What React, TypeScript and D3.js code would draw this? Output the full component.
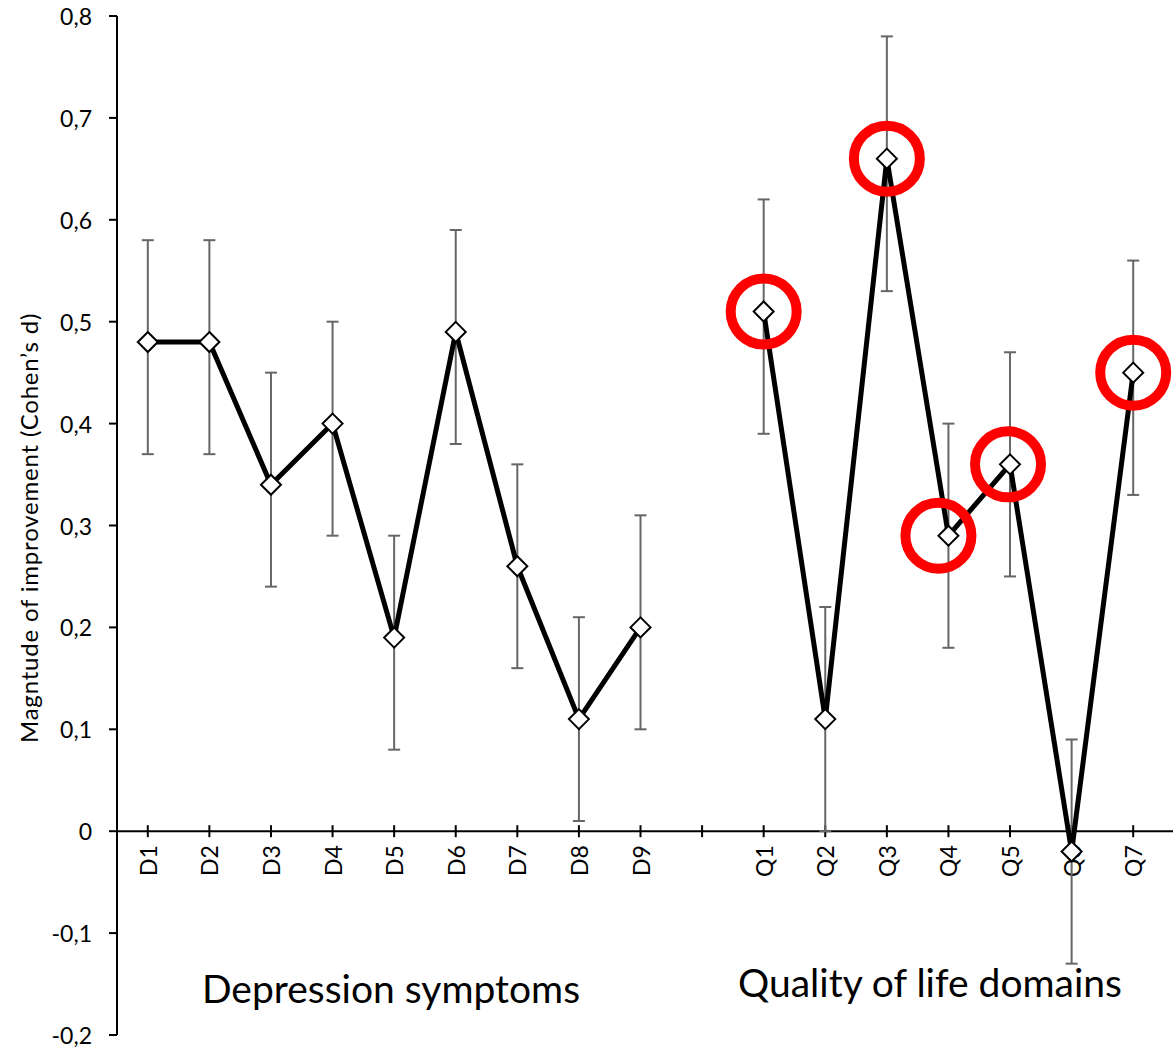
import React from "react";
import * as d3 from "d3";

const categories = ["D1","D2","D3","D4","D5","D6","D7","D8","D9","","Q1","Q2","Q3","Q4","Q5","Q6","Q7"];
const depLabels = ["D1","D2","D3","D4","D5","D6","D7","D8","D9"];
const depValues = [0.48,0.48,0.34,0.40,0.19,0.49,0.26,0.11,0.20];
const depLow = [0.37,0.37,0.24,0.29,0.08,0.38,0.16,0.01,0.10];
const depHigh = [0.58,0.58,0.45,0.50,0.29,0.59,0.36,0.21,0.31];
const qolLabels = ["Q1","Q2","Q3","Q4","Q5","Q6","Q7"];
const qolValues = [0.51,0.11,0.66,0.29,0.36,-0.02,0.45];
const qolLow = [0.39,0.00,0.53,0.18,0.25,-0.13,0.33];
const qolHigh = [0.62,0.22,0.78,0.40,0.47,0.09,0.56];
const highlighted = ["Q1","Q3","Q4","Q5","Q7"];
const yTicks = [-0.2,-0.1,0,0.1,0.2,0.3,0.4,0.5,0.6,0.7,0.8];

const FONT = "Lato, 'Open Sans', sans-serif";

export default function App() {
  const W = 1173, H = 1047;
  const x = d3.scaleBand().domain(categories.map((c, i) => c || "gap" + i)).range([117, 1164]);
  const cx = (c: string) => (x(c) as number) + x.bandwidth() / 2;
  const y = d3.scaleLinear().domain([-0.2, 0.8]).range([1035, 16]);
  const line = d3.line<[string, number]>().x(d => cx(d[0])).y(d => y(d[1]));
  const dep = depLabels.map((c, i) => ({ c, v: depValues[i], lo: depLow[i], hi: depHigh[i] }));
  const qol = qolLabels.map((c, i) => ({ c, v: qolValues[i], lo: qolLow[i], hi: qolHigh[i] }));
  const all = [...dep, ...qol];
  const fmt = (v: number) => (Math.round(v * 10) / 10).toString().replace(".", ",");
  const diamond = (px: number, py: number, r: number) => `M${px},${py - r}L${px + r},${py}L${px},${py + r}L${px - r},${py}Z`;
  const y0 = y(0);
  const circleOffset: Record<string, number> = { Q4: -10, Q5: -2 };
  return (
    <svg width={W} height={H} style={{ position: "absolute", left: 0, top: 0, background: "#fff" }}>
      <rect width={W} height={H} fill="#fff" />
      {/* y axis */}
      <line x1={117} x2={117} y1={y(0.8)} y2={y(-0.2)} stroke="#000" strokeWidth={2} />
      {yTicks.map(t => (
        <g key={t}>
          <line x1={109} x2={117} y1={y(t)} y2={y(t)} stroke="#000" strokeWidth={2} />
          <text x={92} y={y(t)} textAnchor="end" dominantBaseline="central" fontFamily={FONT} fontSize={23}>{fmt(t)}</text>
        </g>
      ))}
      <text transform={`translate(38,${528}) rotate(-90)`} textAnchor="middle" fontFamily={FONT} fontSize={24} letterSpacing={0.8}>Magntude of improvement (Cohen’s d)</text>
      {/* x axis */}
      <line x1={117} x2={1173} y1={y0} y2={y0} stroke="#000" strokeWidth={2} />
      {categories.map((c, i) => {
        const px = (x(c || "gap" + i) as number) + x.bandwidth() / 2;
        return (
          <g key={i}>
            <line x1={px} x2={px} y1={y0 - 6} y2={y0 + 6} stroke="#000" strokeWidth={2} />
            {c && (
              <text transform={`translate(${px},${y0 + 14}) rotate(-90)`} textAnchor="end" dominantBaseline="central" fontFamily={FONT} fontSize={23}>{c}</text>
            )}
          </g>
        );
      })}
      {/* error bars */}
      {all.map(d => {
        const px = cx(d.c);
        return (
          <g key={"e" + d.c} stroke="#666" strokeWidth={2}>
            <line x1={px} x2={px} y1={y(d.lo)} y2={y(d.hi)} />
            <line x1={px - 6} x2={px + 6} y1={y(d.lo)} y2={y(d.lo)} />
            <line x1={px - 6} x2={px + 6} y1={y(d.hi)} y2={y(d.hi)} />
          </g>
        );
      })}
      {/* lines */}
      <path d={line(dep.map(d => [d.c, d.v] as [string, number])) || ""} fill="none" stroke="#000" strokeWidth={5} strokeLinejoin="round" />
      <path d={line(qol.map(d => [d.c, d.v] as [string, number])) || ""} fill="none" stroke="#000" strokeWidth={5} strokeLinejoin="round" />
      {/* markers */}
      {all.map(d => (
        <path key={"m" + d.c} d={diamond(cx(d.c), y(d.v), 10)} fill="#fff" stroke="#000" strokeWidth={2} />
      ))}
      {/* highlight circles */}
      {qol.filter(d => highlighted.includes(d.c)).map(d => (
        <circle key={"c" + d.c} cx={cx(d.c) + (circleOffset[d.c] || 0)} cy={y(d.v)} r={33} fill="none" stroke="#ff0000" strokeWidth={10} />
      ))}
      <text x={391} y={1003} textAnchor="middle" fontFamily={FONT} fontSize={39}>Depression symptoms</text>
      <text x={930} y={997} textAnchor="middle" fontFamily={FONT} fontSize={39}>Quality of life domains</text>
    </svg>
  );
}
